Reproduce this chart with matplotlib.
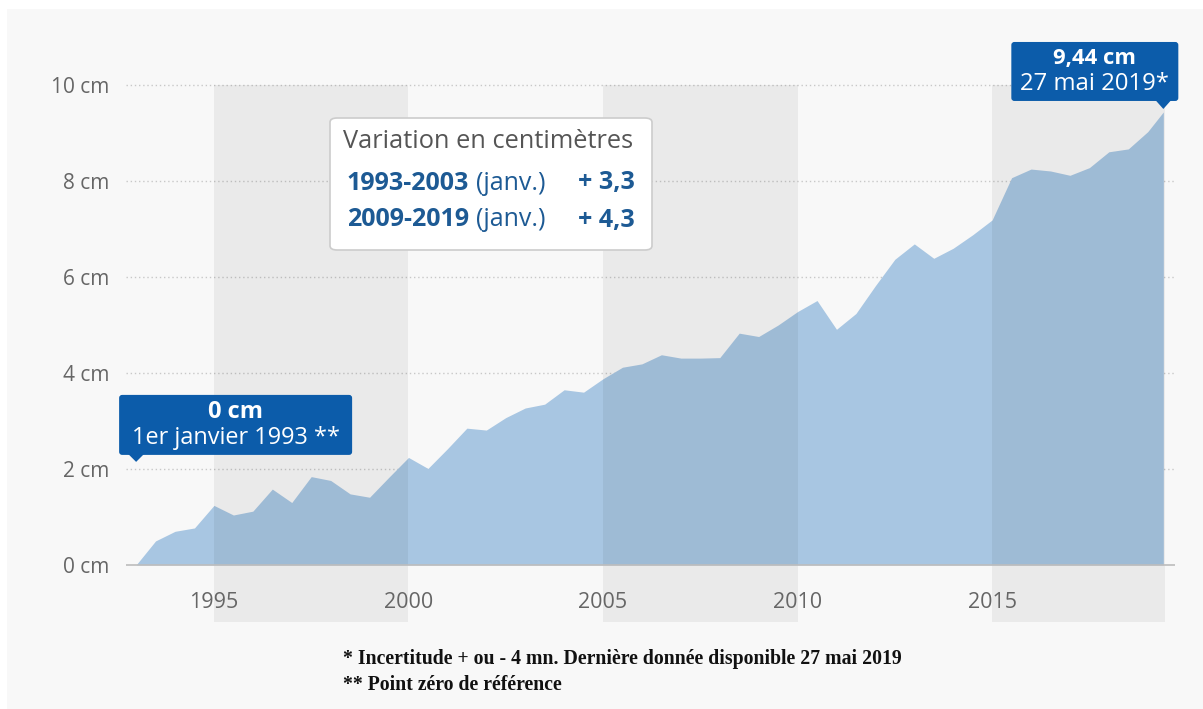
import matplotlib
matplotlib.use("Agg")
import matplotlib.pyplot as plt
from matplotlib.patches import Rectangle, FancyBboxPatch, Polygon
from matplotlib.transforms import IdentityTransform

# ---------------- data ----------------
years = [1993.0, 1993.5, 1994.0, 1994.5, 1995.0, 1995.5, 1996.0, 1996.5, 1997.0, 1997.5,
         1998.0, 1998.5, 1999.0, 1999.5, 2000.0, 2000.5, 2001.0, 2001.5, 2002.0, 2002.5,
         2003.0, 2003.5, 2004.0, 2004.5, 2005.0, 2005.5, 2006.0, 2006.5, 2007.0, 2007.5,
         2008.0, 2008.5, 2009.0, 2009.5, 2010.0, 2010.5, 2011.0, 2011.5, 2012.0, 2012.5,
         2013.0, 2013.5, 2014.0, 2014.5, 2015.0, 2015.5, 2016.0, 2016.5, 2017.0, 2017.5,
         2018.0, 2018.5, 2019.0, 2019.4]
sea_level_cm = [0.00, 0.50, 0.70, 0.77, 1.24, 1.04, 1.12, 1.58, 1.30, 1.84,
                1.76, 1.48, 1.41, 1.83, 2.24, 2.01, 2.42, 2.85, 2.81, 3.07,
                3.27, 3.35, 3.65, 3.60, 3.88, 4.12, 4.19, 4.38, 4.31, 4.31,
                4.32, 4.83, 4.76, 5.00, 5.28, 5.51, 4.91, 5.24, 5.82, 6.37,
                6.69, 6.39, 6.60, 6.88, 7.19, 8.07, 8.25, 8.21, 8.12, 8.28,
                8.61, 8.67, 9.03, 9.44]
y_ticks = [0, 2, 4, 6, 8, 10]
y_tick_labels = ["0 cm", "2 cm", "4 cm", "6 cm", "8 cm", "10 cm"]
x_ticks = [1995, 2000, 2005, 2010, 2015]
x_tick_labels = ["1995", "2000", "2005", "2010", "2015"]
band_starts = [1995, 2005, 2015]
band_ends = [2000, 2010, 2019.45]
first_label = ("0 cm", "1er janvier 1993 **")
last_label = ("9,44 cm", "27 mai 2019*")
info_title = "Variation en centimètres"
info_periods = ["1993-2003", "2009-2019"]
info_suffix = "(janv.)"
info_values = ["+ 3,3", "+ 4,3"]
footnotes = ["* Incertitude + ou - 4 mn. Dernière donnée disponible 27 mai 2019",
             "** Point zéro de référence"]

# ---------------- style ----------------
W, H = 1203, 709
FONT = "Open Sans"
BLUE_BOX = "#0c5caa"
BLUE_TXT = "#1d5a94"
FILL = "#a8c6e2"
GREY_TXT = "#666666"

fig = plt.figure(figsize=(W / 100, H / 100), dpi=100)
fig.patch.set_facecolor("white")

def fx(x):
    return x / W

def fy(y):
    return 1 - y / H

# light grey page background
fig.patches.append(Rectangle((fx(7), 0), 1, fy(9), transform=fig.transFigure,
                             facecolor="#f8f8f8", edgecolor="none", zorder=-5))

ax = fig.add_axes([fx(126), fy(622), fx(1175) - fx(126), fy(40) - fy(622)])
ax.set_zorder(1)
ax.set_facecolor("none")
ax.set_xlim(1992.74, 2019.70)
ax.set_ylim(-1.19, 10.94)
for s in ax.spines.values():
    s.set_visible(False)
ax.set_xticks([])

# y ticks
ax.set_yticks(y_ticks)
ax.set_yticklabels(y_tick_labels, fontfamily=FONT, fontsize=15, color=GREY_TXT)
ax.tick_params(axis="y", length=0, pad=12)

# grid lines
for t in y_ticks[1:]:
    ax.axhline(t, color="#c8c8c8", lw=1.0, ls=(0, (1, 2)), zorder=1)
ax.axhline(0, color="#bdbdbd", lw=1.2, zorder=4)

# area
ax.fill_between(years, 0, sea_level_cm, color=FILL, lw=0, zorder=2)

# bands drawn over area (darken slightly)
for b0, b1 in zip(band_starts, band_ends):
    ax.fill_between([b0, b1], -1.19, 10, color="black", alpha=0.055, lw=0, zorder=3)

# x tick labels
for t, lab in zip(x_ticks, x_tick_labels):
    ax.text(t, -0.79, lab, ha="center", va="center", fontfamily=FONT,
            fontsize=15.5, color=GREY_TXT, zorder=5)

# ---------------- callouts ----------------
def callout(xd, yd, box, tip, lines, sizes):
    fig.canvas.draw()
    px, py = ax.transData.transform((xd, yd))
    x0, x1, y0, y1 = box
    patch = FancyBboxPatch((px + x0, py + y0), x1 - x0, y1 - y0,
                           boxstyle="round,pad=0,rounding_size=3",
                           transform=IdentityTransform(), facecolor=BLUE_BOX,
                           edgecolor="none", zorder=6)
    fig.patches.append(patch)
    tx, ty, half = tip
    tri = Polygon([(px + tx - half, py + y0 + 1), (px + tx + half, py + y0 + 1),
                   (px + tx, py + ty)], closed=True, transform=IdentityTransform(),
                  facecolor=BLUE_BOX, edgecolor="none", zorder=6)
    fig.patches.append(tri)
    cx = px + (x0 + x1) / 2
    h = y1 - y0
    fig.text(cx / W, (py + y0 + h * 0.72) / H, lines[0], ha="center", va="center",
             fontfamily=FONT, fontweight="bold", fontsize=sizes[0], color="white", zorder=7)
    fig.text(cx / W, (py + y0 + h * 0.28) / H, lines[1], ha="center", va="center",
             fontfamily=FONT, fontsize=sizes[1], color="white", zorder=7)

callout(years[0], sea_level_cm[0], (-17, 216, 110, 170), (0, 103, 8), first_label, (17, 16.9))
callout(years[-1], sea_level_cm[-1], (-152, 15, 11, 70), (0, 3, 8), last_label, (15.8, 17.2))

# ---------------- info box ----------------
fig.patches.append(FancyBboxPatch((fx(330), fy(250)), fx(652) - fx(330), fy(118) - fy(250),
                                  boxstyle="round,pad=0,rounding_size=0.006",
                                  transform=fig.transFigure, facecolor="white",
                                  edgecolor="#cccccc", lw=1.2, zorder=6))
fig.text(fx(343), fy(141), info_title, ha="left", va="center", fontfamily=FONT,
         fontsize=18.3, color="#555555", zorder=7)
for i, (per, val) in enumerate(zip(info_periods, info_values)):
    yy = fy(183 + i * 37)
    fig.text(fx(347), yy, per, ha="left", va="center", fontfamily=FONT,
             fontweight="bold", fontsize=18, color=BLUE_TXT, zorder=7)
    fig.text(fx(476), yy, info_suffix, ha="left", va="center", fontfamily=FONT,
             fontsize=18, color=BLUE_TXT, zorder=7)
    fig.text(fx(635), yy, val, ha="right", va="center", fontfamily=FONT,
             fontweight="bold", fontsize=18, color=BLUE_TXT, zorder=7)

# ---------------- footnotes ----------------
for i, note in enumerate(footnotes):
    fig.text(fx(343), fy(659 + i * 26), note, ha="left", va="center",
             fontfamily="Liberation Serif", fontweight="bold", fontsize=14.2,
             color="#111111")

fig.savefig("out.png", dpi=100, facecolor=fig.get_facecolor())
